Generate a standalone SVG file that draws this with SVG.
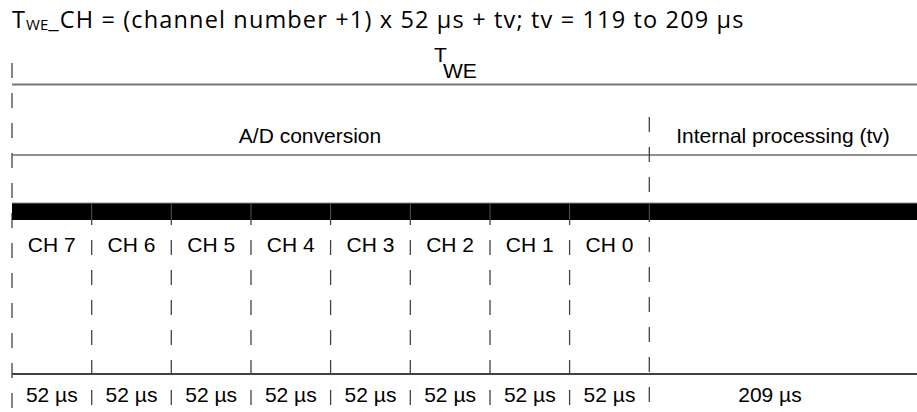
<svg xmlns="http://www.w3.org/2000/svg" width="917" height="412" viewBox="0 0 917 412">
<style>
.t{font-family:"Liberation Sans",Arial,sans-serif;font-size:21px;fill:#000}
.c{text-anchor:middle}
.ttl{font-family:"Open Sans","Noto Sans",sans-serif;font-size:23.5px;letter-spacing:1.15px;fill:#000}
.dash{stroke:#444;stroke-width:1.3;stroke-dasharray:15 15;fill:none}
.sep{stroke:#555;stroke-width:1}
</style>
<rect width="917" height="412" fill="#fff"/>
<g id="title"><text class="ttl" x="12" y="28">T<tspan font-size="15" dy="2" letter-spacing="0">WE</tspan><tspan dy="-2">_CH = (channel number +1) x 52 µs + tv; tv = 119 to 209 µs</tspan></text></g>
<g id="connectors">
<line x1="12" y1="84.5" x2="917" y2="84.5" stroke="#777" stroke-width="2"/>
<line x1="12" y1="155" x2="917" y2="155" stroke="#222" stroke-width="1.2"/>
<line x1="12" y1="374" x2="917" y2="374" stroke="#000" stroke-width="1.5"/>
<line class="dash" x1="12" y1="63" x2="12" y2="412"/>
<line class="dash" x1="649.3" y1="117" x2="649.3" y2="410"/>
<line class="dash" x1="91.7" y1="210" x2="91.7" y2="410"/>
<line class="dash" x1="171.3" y1="210" x2="171.3" y2="410"/>
<line class="dash" x1="251" y1="210" x2="251" y2="410"/>
<line class="dash" x1="330.6" y1="210" x2="330.6" y2="410"/>
<line class="dash" x1="410.3" y1="210" x2="410.3" y2="410"/>
<line class="dash" x1="490" y1="210" x2="490" y2="410"/>
<line class="dash" x1="569.6" y1="210" x2="569.6" y2="410"/>
</g>
<g id="bar">
<rect x="12" y="203" width="905" height="17" fill="#000"/>
<line x1="12" y1="203" x2="917" y2="203" stroke="#888" stroke-width="1"/>
<line class="sep" x1="91.7" y1="203" x2="91.7" y2="220"/>
<line class="sep" x1="171.3" y1="203" x2="171.3" y2="220"/>
<line class="sep" x1="251" y1="203" x2="251" y2="220"/>
<line class="sep" x1="330.6" y1="203" x2="330.6" y2="220"/>
<line class="sep" x1="410.3" y1="203" x2="410.3" y2="220"/>
<line class="sep" x1="490" y1="203" x2="490" y2="220"/>
<line class="sep" x1="569.6" y1="203" x2="569.6" y2="220"/>
<line class="sep" x1="649.3" y1="203" x2="649.3" y2="220"/>
</g>
<g id="twe"><text class="t" x="434" y="62" font-size="13">T</text><text class="t" x="443" y="78">WE</text></g>
<g id="ad"><text class="t c" x="310" y="143">A/D conversion</text></g>
<g id="internal"><text class="t c" x="783" y="143">Internal processing (tv)</text></g>
<g id="channels">
<text class="t c" x="51.8" y="252">CH 7</text>
<text class="t c" x="131.5" y="252">CH 6</text>
<text class="t c" x="211.2" y="252">CH 5</text>
<text class="t c" x="290.8" y="252">CH 4</text>
<text class="t c" x="370.5" y="252">CH 3</text>
<text class="t c" x="450.1" y="252">CH 2</text>
<text class="t c" x="529.8" y="252">CH 1</text>
<text class="t c" x="609.5" y="252">CH 0</text>
</g>
<g id="durations">
<text class="t c" x="51.8" y="402">52 µs</text>
<text class="t c" x="131.5" y="402">52 µs</text>
<text class="t c" x="211.2" y="402">52 µs</text>
<text class="t c" x="290.8" y="402">52 µs</text>
<text class="t c" x="370.5" y="402">52 µs</text>
<text class="t c" x="450.1" y="402">52 µs</text>
<text class="t c" x="529.8" y="402">52 µs</text>
<text class="t c" x="609.5" y="402">52 µs</text>
<text class="t c" x="770" y="402">209 µs</text>
</g>
</svg>
